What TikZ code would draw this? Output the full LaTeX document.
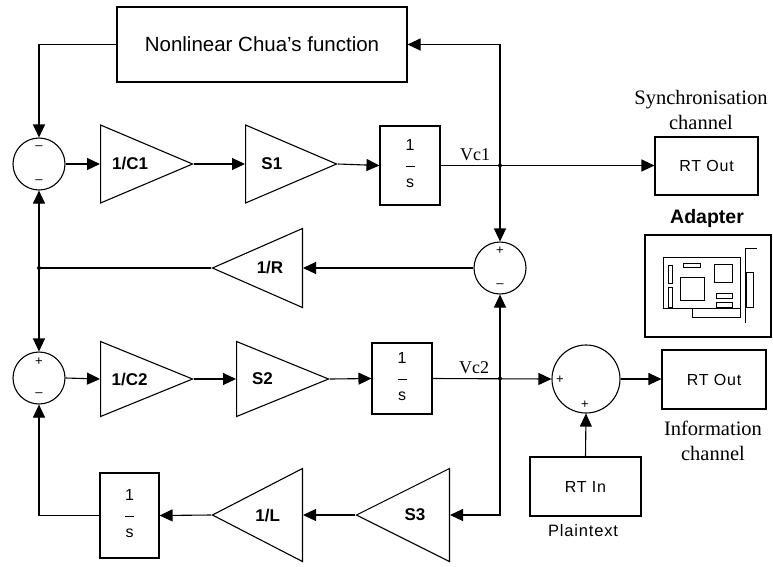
\documentclass[tikz,border=0pt]{standalone}
\usepackage{fontspec}
\setmainfont{Liberation Serif}
\setsansfont{Liberation Sans}
\newfontfamily\widesans[LetterSpace=5]{Liberation Sans}
\usetikzlibrary{shapes.geometric, arrows.meta}

% 1 over s, as printed inside an integrator
\newcommand{\intfrac}{\begin{tabular}{@{}c@{}}1\\[1pt]\rule[4pt]{9pt}{1pt}\\[-2pt]s\end{tabular}}

\begin{document}
\begin{tikzpicture}[x=1pt, y=-1pt, line width=1.1pt,
    block/.style={draw, rectangle, inner sep=0pt, font=\widesans\fontsize{16}{19}\selectfont},
    sumnode/.style={draw, circle, inner sep=0pt, minimum size=52pt},
    % minimum height runs apex to base, minimum width along the base
    gain/.style={draw, isosceles triangle, isosceles triangle stretches, inner sep=0pt,
        minimum height=92pt, minimum width=78pt, font=\sffamily\bfseries\fontsize{17}{20}\selectfont},
    % pointing left; the label sits a bit further from the base
    leftgain/.style={gain, shape border rotate=180, execute at begin node={\hspace*{-18pt}}},
    sig/.style={-{Triangle[length=13pt, width=12pt]}},
    sign/.style={inner sep=0pt, font=\sffamily\fontsize{13}{13}\selectfont},
    caption/.style={align=center, font=\fontsize{20.5}{25}\selectfont},
    junction/.style={circle, fill, inner sep=0pt, minimum size=4pt}]
\useasboundingbox (0,0) rectangle (773,566);

% upper loop (capacitor C1)
\node[block, minimum width=290pt, minimum height=75pt, font=\sffamily\fontsize{20.5}{24}\selectfont]
    (chua) at (262,44.5) {Nonlinear Chua's function};
\node[sumnode] (sum1) at (39,164) {};
\node[gain, anchor=lower side] (c1) at (100,164) {1/C1};
\node[gain, anchor=lower side, minimum height=91pt] (s1) at (245,164) {S1};
\node[block, minimum width=60pt, minimum height=79pt] (int1) at (410,165.5) {\intfrac};

% coupling resistor
\node[sumnode] (sum2) at (500,268) {};
\node[leftgain, anchor=lower side, minimum height=90pt, minimum width=79pt] (r) at (303,268) {1/R};

% lower loop (capacitor C2)
\node[sumnode] (sum3) at (39,378) {};
\node[gain, anchor=lower side, minimum width=75pt] (c2) at (100,379) {1/C2};
\node[gain, anchor=lower side, minimum width=75pt] (s2) at (236,379) {S2};
\node[block, minimum width=60pt, minimum height=71pt] (int2) at (402,378.5) {\intfrac};

% inductor branch
\node[leftgain, anchor=lower side, minimum height=93pt, minimum width=93pt] (s3) at (450,515) {S3};
\node[leftgain, anchor=lower side, minimum height=90pt, minimum width=93pt] (l) at (303,515) {1/L};
\node[block, minimum width=59pt, minimum height=85pt] (int3) at (129.5,515.5) {\intfrac};

% real-time i/o
\node[block, minimum width=103pt, minimum height=58pt] (rtout1) at (706.5,166) {RT Out};
\node[sumnode, minimum size=68pt] (sum4) at (586,379) {};
\node[block, minimum width=104pt, minimum height=59pt] (rtout2) at (714,379.5) {RT Out};
\node[block, minimum width=111pt, minimum height=59pt] (rtin) at (585.5,486.5) {RT In};

% signs on the summing junctions
\node[sign] at (39,148) {–};
\node[sign] at (39,182) {–};
\node[sign] at (500,251) {+};
\node[sign] at (500,286) {–};
\node[sign] at (39,362) {+};
\node[sign] at (39,395) {–};
\node[sign] at (560,380) {+};
\node[sign] at (585,405) {+};

% branch points
\coordinate (vc1) at (int1.east -| sum2.north);
\coordinate (vc2) at (int2.east -| sum2.south);
\coordinate (j1) at (sum1.south |- r.apex);
\node[junction] at (vc1) {};
\node[junction] at (vc2) {};
\node[junction] at (j1) {};

% connections
\draw[sig] (chua.west) -| (sum1.north);
\draw[sig] (sum1.east) -- (c1.lower side);
\draw[sig] (c1.apex) -- (s1.lower side);
\draw[sig] (s1.apex) -- (int1.west);
\draw[sig] (int1.east) -- (int1.east -| rtout1.west);
\draw[sig] (vc1) |- (chua.east);
\draw[sig] (vc1) -- (sum2.north);
\draw[sig] (sum2.west) -- (r.lower side);
\draw (r.apex) -- (j1);
\draw[sig] (j1) -- (sum1.south);
\draw[sig] (j1) -- (sum3.north);
\draw[sig] (sum3.east) -- (c2.lower side);
\draw[sig] (c2.apex) -- (s2.lower side);
\draw[sig] (s2.apex) -- (int2.west);
\draw[sig] (int2.east) -- (sum4.west);
\draw[sig] (vc2) -- (sum2.south);
\draw[sig] (vc2) |- (s3.lower side);
\draw[sig] (s3.apex) -- (l.lower side);
\draw[sig] (l.apex) -- (int3.east);
\draw[sig] (int3.west) -| (sum3.south);
\draw[sig] (sum4.east) -- (sum4.east -| rtout2.west);
\draw[sig] (rtin.north) -- (sum4.south);

% signal names and captions
\node[font=\fontsize{18}{20}\selectfont] at (475,155) {Vc1};
\node[font=\fontsize{18}{20}\selectfont] at (474,368) {Vc2};
\node[caption] at (701,110) {Synchronisation\\channel};
\node[caption] at (713,441) {Information\\channel};
\node[font=\sffamily\bfseries\fontsize{19.5}{22}\selectfont] at (707,218) {Adapter};
\node[font=\widesans\fontsize{16.5}{18}\selectfont] at (583,531) {Plaintext};

% adapter card icon
\node[draw, minimum width=126pt, minimum height=102pt] (adapter) at (708,286) {};
\begin{scope}[line width=0.9pt]
\draw (663,257) rectangle (740,308);
\draw (692,308) -- (692,317) -- (740,317) -- (740,308);
\draw (757,248) -- (745,248) -- (745,323);
\draw (746,272) rectangle (753,307);
\draw (668,265) rectangle (672,283);
\draw (668,287) rectangle (672,307);
\draw (683,263) rectangle (700,267);
\draw (680,277) rectangle (704,300);
\draw (714,264) rectangle (732,282);
\draw (716,293) rectangle (732,298);
\draw (716,302) rectangle (732,307);
\end{scope}
\end{tikzpicture}
\end{document}
